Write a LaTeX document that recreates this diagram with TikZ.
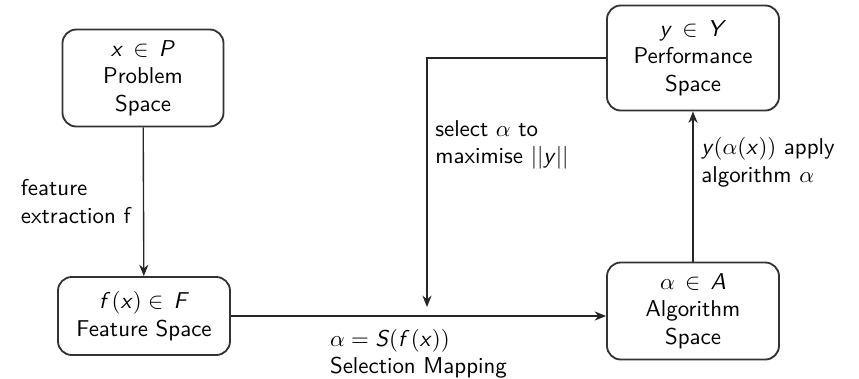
\documentclass[tikz,border=0pt]{standalone}
\usepackage{amsmath,amssymb}
\usepackage{tikz}
\usetikzlibrary{arrows.meta,positioning}

\newcommand{\mv}[1]{\textit{#1\/}}

\tikzset{
  spacebox/.style={draw,thick,draw=black!80,rounded corners=6pt,align=center,inner sep=2pt},
  flow/.style={-{Stealth[length=5pt,width=4pt]},semithick,draw=black!85}
}

\begin{document}
\begin{tikzpicture}[x=0.01535cm,y=-0.01535cm,font=\sffamily]
  \useasboundingbox (0,0) rectangle (859,378);
  % the four spaces
  \node[spacebox,minimum width=161*0.01535cm,minimum height=97*0.01535cm] (prob) at (143,78) {$\mv{x}\,\in\,\mv{P}$\\Problem\\Space};
  \node[spacebox,minimum width=172*0.01535cm,minimum height=78*0.01535cm] (feat) at (144,316) {$\mv{f}\mkern1mu(\mv{x})\in\,\mv{F}$\\Feature Space};
  \node[spacebox,minimum width=172*0.01535cm,minimum height=97*0.01535cm] (alg) at (693,311) {$\alpha\,\in\,\mv{A}$\\Algorithm\\Space};
  \node[spacebox,minimum width=172*0.01535cm,minimum height=105*0.01535cm] (perf) at (693,58) {$\mv{y}\,\in\,\mv{Y}$\\Performance\\Space};
  \coordinate (sel) at (427,307);
  % mappings
  \draw[flow] (prob) -- node[left,align=left,xshift=-2pt] {feature\\extraction f} (feat);
  \draw[flow] (feat.east |- 0,316) -- node[below,align=left,yshift=-2pt] {$\alpha=\mv{S}(\mv{f}\mkern1mu(\mv{x}))$\\Selection Mapping} (alg.west |- 0,316);
  \draw[flow] (alg) -- node[right,align=left,pos=0.66] {$\mv{y}(\alpha(\mv{x}))$ apply\\algorithm $\alpha$} (perf);
  \draw[flow] (perf.west) -| node[right,align=left,pos=0.675] {select $\alpha$ to\\maximise $||\mv{y}||$} (sel);
\end{tikzpicture}
\end{document}
